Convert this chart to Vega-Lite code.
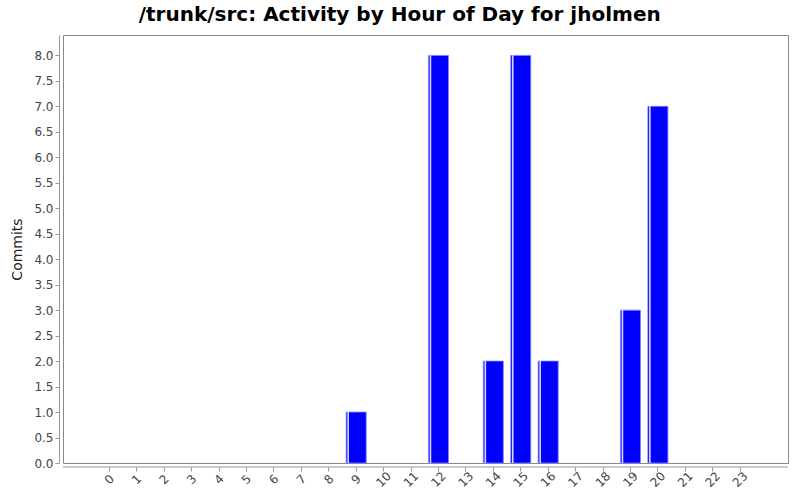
{
  "$schema": "https://vega.github.io/schema/vega-lite/v6.json",
  "autosize": {"type": "none"},
  "width": 725,
  "height": 428,
  "padding": {"left": 63, "top": 35, "right": 12, "bottom": 37},
  "background": "white",
  "title": {
    "text": "/trunk/src: Activity by Hour of Day for jholmen",
    "font": "DejaVu Sans",
    "fontSize": 20,
    "fontWeight": "bold",
    "color": "#000000",
    "anchor": "middle",
    "frame": "bounds",
    "offset": 10
  },
  "data": {
    "values": [
      {"hour": "0", "commits": 0}, {"hour": "1", "commits": 0}, {"hour": "2", "commits": 0},
      {"hour": "3", "commits": 0}, {"hour": "4", "commits": 0}, {"hour": "5", "commits": 0},
      {"hour": "6", "commits": 0}, {"hour": "7", "commits": 0}, {"hour": "8", "commits": 0},
      {"hour": "9", "commits": 1}, {"hour": "10", "commits": 0}, {"hour": "11", "commits": 0},
      {"hour": "12", "commits": 8}, {"hour": "13", "commits": 0}, {"hour": "14", "commits": 2},
      {"hour": "15", "commits": 8}, {"hour": "16", "commits": 2}, {"hour": "17", "commits": 0},
      {"hour": "18", "commits": 0}, {"hour": "19", "commits": 3}, {"hour": "20", "commits": 7},
      {"hour": "21", "commits": 0}, {"hour": "22", "commits": 0}, {"hour": "23", "commits": 0}
    ]
  },
  "config": {
    "view": {"stroke": "#888888", "strokeWidth": 1},
    "axis": {
      "labelFont": "DejaVu Sans",
      "labelFontSize": 12,
      "labelColor": "#444444",
      "titleFont": "DejaVu Sans",
      "titleFontSize": 14,
      "titleFontWeight": "normal",
      "titleColor": "#222222",
      "domainColor": "#999999",
      "tickColor": "#999999",
      "grid": false
    }
  },
  "encoding": {
    "y": {
      "field": "commits",
      "type": "quantitative",
      "scale": {"domain": [0, 8.4], "nice": false},
      "axis": {
        "title": "Commits",
        "values": [0, 0.5, 1, 1.5, 2, 2.5, 3, 3.5, 4, 4.5, 5, 5.5, 6, 6.5, 7, 7.5, 8],
        "format": ".1f",
        "offset": 4,
        "tickSize": 4,
        "titlePadding": 9,
        "labelOverlap": false
      }
    }
  },
  "layer": [
    {
      "transform": [{"filter": "datum.commits > 0"}],
      "mark": {"type": "bar", "color": "#0000ff", "stroke": "#8080ff", "strokeWidth": 0.8},
      "encoding": {
        "x": {
          "field": "hour",
          "type": "ordinal",
          "sort": null,
          "scale": {
            "domain": ["0","1","2","3","4","5","6","7","8","9","10","11","12","13","14","15","16","17","18","19","20","21","22","23"],
            "range": [36.3, 687.2],
            "paddingInner": 0.27,
            "paddingOuter": 0
          },
          "axis": {
            "title": null,
            "domain": false,
            "labelAngle": -45,
            "labelAlign": "center",
            "labelBaseline": "middle",
            "offset": 4,
            "tickSize": 4,
            "labelPadding": 8,
            "labelOverlap": false
          }
        }
      }
    },
    {
      "transform": [{"filter": "datum.commits > 0"}],
      "mark": {"type": "rule", "color": "#ffffff", "strokeWidth": 1.6, "opacity": 0.85},
      "encoding": {
        "x": {"field": "hour", "type": "ordinal", "sort": null, "bandPosition": 0.1},
        "y2": {"datum": 0}
      }
    },
    {
      "data": {"values": [{"base": 0}]},
      "mark": {"type": "rule", "color": "#999999", "strokeWidth": 1, "yOffset": 4},
      "encoding": {
        "y": {"field": "base", "type": "quantitative"}
      }
    }
  ]
}
